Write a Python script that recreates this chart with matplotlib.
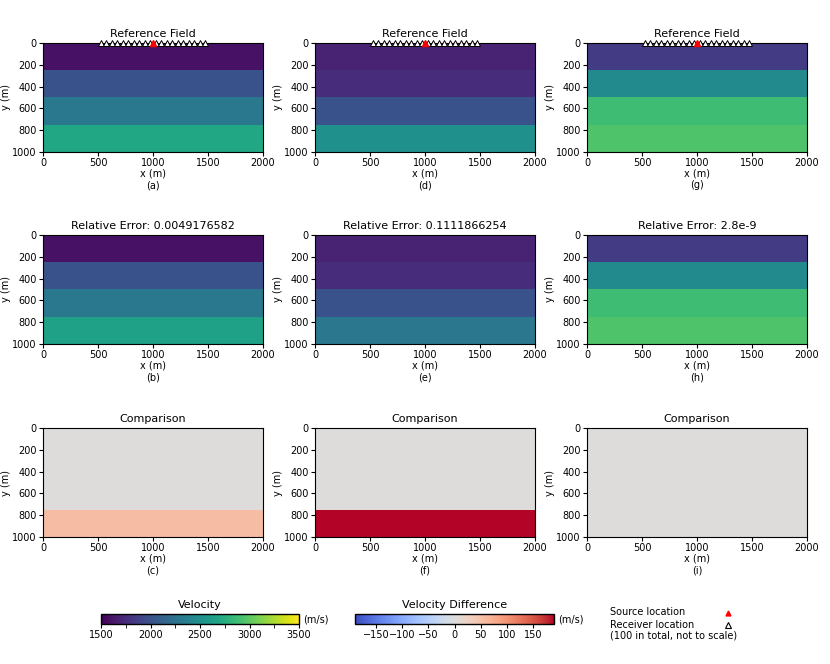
import numpy as np
import matplotlib
matplotlib.use("Agg")
import matplotlib.pyplot as plt
from matplotlib.lines import Line2D

plt.rcParams['font.family'] = ['DejaVu Sans']
plt.rcParams['font.size'] = 7

# layered models: 4 layers of 250 m each, 2000 m wide
layer_tops = [0, 250, 500, 750]
depth = 1000
width = 2000

ref_a = [1600, 2000, 2300, 2700]
inv_b = [1600, 2000, 2300, 2645]
ref_d = [1700, 1750, 2000, 2500]
inv_e = [1700, 1750, 2000, 2290]
ref_g = [1850, 2450, 2880, 2950]
inv_h = [1850, 2450, 2880, 2950]

errors = ["0.0049176582", "0.1111866254", "2.8e-9"]
letters = [["(a)", "(b)", "(c)"], ["(d)", "(e)", "(f)"], ["(g)", "(h)", "(i)"]]

receivers_x = [525 + 50 * i for i in range(20)]
source_x = 1000

vmin, vmax = 1500, 3500
dmin, dmax = -190, 190


def grid(vals):
    col = np.repeat(vals, 25)  # 100 rows, 10 m each
    return np.tile(col[:, None], (1, 200))


fig = plt.figure(figsize=(8.3, 6.64), dpi=100)
W, H = 830, 664
col_x = [43, 315, 587]
row_y = [43, 235, 428]
aw, ah = 220, 109


def make_ax(x, y):
    return fig.add_axes([x / W, 1 - (y + ah) / H, aw / W, ah / H])


def style(ax, title, letter):
    ax.set_title(title, fontsize=8, pad=4.5)
    ax.set_xlabel("x (m)\n" + letter, labelpad=0.5, linespacing=1.15)
    ax.set_ylabel("y (m)", labelpad=1)
    ax.set_xticks([0, 500, 1000, 1500, 2000])
    ax.set_yticks([0, 200, 400, 600, 800, 1000])
    ax.tick_params(length=3, pad=1.5, labelsize=7)


cases = [(ref_a, inv_b), (ref_d, inv_e), (ref_g, inv_h)]
ext = [0, width, depth, 0]
for c, (ref, inv) in enumerate(cases):
    ref_g2 = grid(ref)
    inv_g2 = grid(inv)
    ax = make_ax(col_x[c], row_y[0])
    im_v = ax.imshow(ref_g2, cmap='viridis', vmin=vmin, vmax=vmax, extent=ext, aspect='auto', interpolation='nearest')
    ax.plot(receivers_x, [0] * len(receivers_x), linestyle='none', marker='^', ms=4, mfc='white', mec='black', mew=0.7, clip_on=False, zorder=5)
    ax.plot([source_x], [0], linestyle='none', marker='^', ms=4.5, color='red', clip_on=False, zorder=6)
    style(ax, "Reference Field", letters[c][0])

    ax = make_ax(col_x[c], row_y[1])
    ax.imshow(inv_g2, cmap='viridis', vmin=vmin, vmax=vmax, extent=ext, aspect='auto', interpolation='nearest')
    style(ax, "Relative Error: " + errors[c], letters[c][1])

    ax = make_ax(col_x[c], row_y[2])
    im_d = ax.imshow(ref_g2 - inv_g2, cmap='coolwarm', vmin=dmin, vmax=dmax, extent=ext, aspect='auto', interpolation='nearest')
    style(ax, "Comparison", letters[c][2])

# colorbars
cax1 = fig.add_axes([101 / W, 1 - 624 / H, 198 / W, 10 / H])
cb1 = fig.colorbar(im_v, cax=cax1, orientation='horizontal')
cb1.set_ticks([1500, 2000, 2500, 3000, 3500])
cb1.ax.xaxis.set_minor_locator(matplotlib.ticker.MultipleLocator(250))
cb1.ax.tick_params(which='both', length=3, pad=1.5, labelsize=7)
cb1.outline.set_linewidth(1.0)
cax1.set_title("Velocity", fontsize=8, pad=4)
cax1.text(1.02, 0.5, "(m/s)", transform=cax1.transAxes, va='center', ha='left', fontsize=7)

cax2 = fig.add_axes([355 / W, 1 - 624 / H, 199 / W, 10 / H])
cb2 = fig.colorbar(im_d, cax=cax2, orientation='horizontal')
cb2.set_ticks([-150, -100, -50, 0, 50, 100, 150])
cb2.ax.tick_params(length=3, pad=1.5, labelsize=7)
cb2.outline.set_linewidth(1.0)
cax2.set_title("Velocity Difference", fontsize=8, pad=4)
cax2.text(1.02, 0.5, "(m/s)", transform=cax2.transAxes, va='center', ha='left', fontsize=7)

# legend
fig.text(610 / W, 1 - 612 / H, "Source location", va='center', ha='left', fontsize=7)
fig.text(610 / W, 1 - 625 / H, "Receiver location", va='center', ha='left', fontsize=7)
fig.text(610 / W, 1 - 635 / H, "(100 in total, not to scale)", va='center', ha='left', fontsize=7)
fig.add_artist(Line2D([728 / W], [1 - 613 / H], marker='^', ms=3.5, color='red', linestyle='none'))
fig.add_artist(Line2D([728 / W], [1 - 625 / H], marker='^', ms=4, mfc='white', mec='black', mew=0.8, linestyle='none'))

fig.savefig("out.png", dpi=100)
